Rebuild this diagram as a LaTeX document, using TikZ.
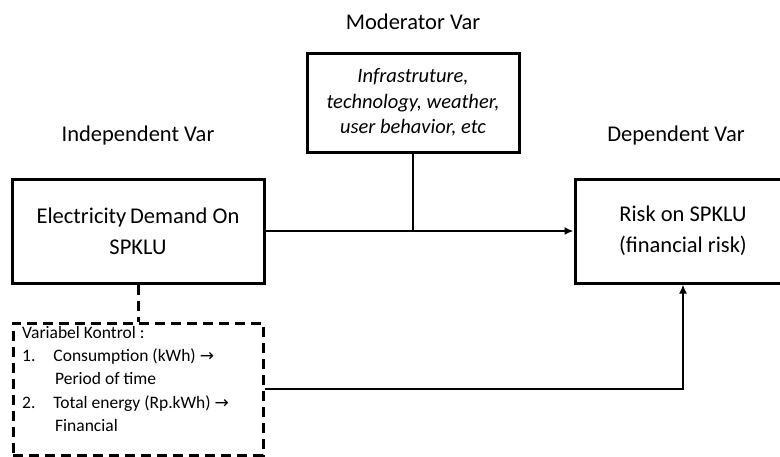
\documentclass[tikz,border=0pt]{standalone}
\usepackage{fontspec}
\setmainfont{Carlito}
\newfontfamily\symfont{DejaVu Sans}
\usetikzlibrary{arrows.meta}
\newcommand{\rarr}{{\symfont\fontsize{17}{17}\selectfont\raisebox{0pt}{→}}}
\begin{document}
\begin{tikzpicture}[x=1pt,y=-1pt,
  box/.style={draw,line width=3pt,inner sep=0pt,align=center,font=\fontsize{22.5}{31}\selectfont},
  lbl/.style={inner sep=0pt,font=\fontsize{22.5}{26}\selectfont},
  conn/.style={line width=2.6pt},
  arr/.style={conn,-{Latex[length=9pt,width=8pt]}}]
\useasboundingbox (0,0) rectangle (780,456);
\node[lbl] (modlbl) at (413,22) {Moderator Var};
\node[lbl] (indlbl) at (138,135) {Independent Var};
\node[lbl] (deplbl) at (676,135) {Dependent Var};
\node[box,minimum width=212,minimum height=99,font=\fontsize{20.5}{25.5}\selectfont\itshape] (mod) at (413,102.5)
  {Infrastruture,\\technology, weather,\\user behavior, etc};
\node[box,minimum width=252,minimum height=104] (ind) at (138,231)
  {Electricity\,Demand On\\SPKLU};
\node[box,minimum width=216,minimum height=104] (dep) at (683,231)
  {Risk on SPKLU\\(financial risk)};
\node[draw,line width=3pt,dash pattern=on 10pt off 6pt,inner sep=0pt,minimum width=250,minimum height=132] (ctrl) at (138,389) {};
\node[anchor=north west,inner sep=0pt,align=left,font=\fontsize{17.5}{23.3}\selectfont] (ctrltxt) at (22,326)
  {Variabel Kontrol :\\
   1.\hspace{18pt}Consumption (kWh) \rarr\\
   \hspace{33pt}Period of time\\
   2.\hspace{18pt}Total energy (Rp.kWh) \rarr\\
   \hspace{33pt}Financial};
\coordinate (junc) at (mod.south |- ind.east);
\draw[arr] (ind.east) -- (dep.west);
\draw[conn] (mod.south) -- (junc);
\draw[line width=3pt,dash pattern=on 10pt off 6pt] (ind.south) -- (ctrl.north);
\draw[arr] (ctrl.east) -| (dep.south);
\end{tikzpicture}
\end{document}
